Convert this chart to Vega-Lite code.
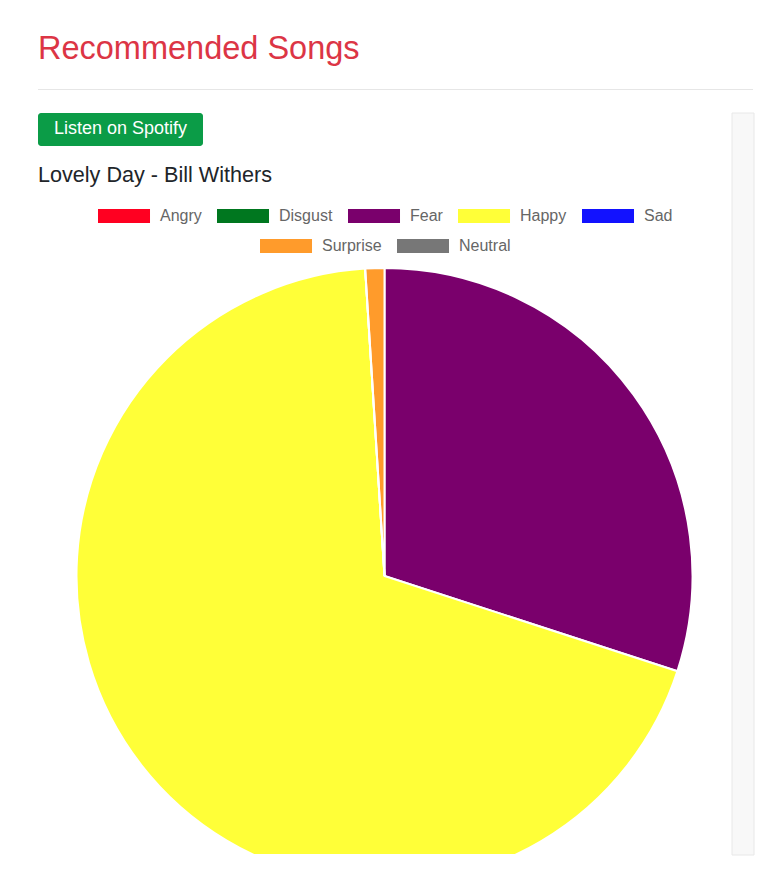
{
  "$schema": "https://vega.github.io/schema/vega-lite/v6.json",
  "background": "white",
  "padding": {"left": 38, "top": 32, "right": 0, "bottom": 0},
  "datasets": {
    "emotions": [
      {"emotion": "Angry", "value": 0},
      {"emotion": "Disgust", "value": 0},
      {"emotion": "Fear", "value": 30},
      {"emotion": "Happy", "value": 69},
      {"emotion": "Sad", "value": 0},
      {"emotion": "Surprise", "value": 1},
      {"emotion": "Neutral", "value": 0}
    ],
    "button": [{"label": "Listen on Spotify"}],
    "divider": [{"part": "divider"}],
    "scroll": [{"part": "track"}]
  },
  "title": {
    "text": "Recommended Songs",
    "anchor": "start",
    "fontSize": 32.5,
    "fontWeight": "normal",
    "color": "#dc3545",
    "offset": 24
  },
  "spacing": 22,
  "vconcat": [
    {
      "width": 715,
      "height": 1,
      "data": {"name": "divider"},
      "mark": {"type": "rect", "fill": "#e6e6e6"},
      "encoding": {}
    },
    {
      "spacing": 0,
      "hconcat": [
        {
          "spacing": 19,
          "vconcat": [
            {
              "width": 165,
              "height": 33,
              "data": {"name": "button"},
              "layer": [
                {"mark": {"type": "rect", "fill": "#0b9c47", "cornerRadius": 3}, "encoding": {}},
                {
                  "mark": {"type": "text", "color": "white", "fontSize": 18, "align": "center", "baseline": "middle", "dy": -1},
                  "encoding": {"text": {"field": "label", "type": "nominal"}}
                }
              ]
            },
            {
              "width": 693,
              "height": 586,
              "data": {"name": "emotions"},
              "title": {
                "text": "Lovely Day - Bill Withers",
                "anchor": "start",
                "fontSize": 21.6,
                "fontWeight": "normal",
                "color": "#212529",
                "offset": 21
              },
              "layer": [
                {
                  "mark": {"type": "arc", "outerRadius": 308, "yOffset": 15, "clip": true, "stroke": "white", "strokeWidth": 2},
                  "encoding": {
                    "theta": {"field": "value", "type": "quantitative", "stack": true},
                    "color": {
                      "field": "emotion",
                      "type": "nominal",
                      "scale": {
                        "domain": ["Angry", "Disgust", "Fear", "Happy", "Sad", "Surprise", "Neutral"],
                        "range": ["#ff0021", "#00771f", "#7a006c", "#ffff38", "#1212ff", "#ff9b2b", "#777777"]
                      },
                      "legend": null
                    }
                  }
                },
                {
                  "transform": [{"filter": {"field": "emotion", "oneOf": ["Angry", "Disgust", "Fear", "Happy", "Sad"]}}],
                  "mark": {"type": "arc", "opacity": 0},
                  "encoding": {
                    "theta": {"field": "value", "type": "quantitative", "stack": true},
                    "color": {
                      "field": "emotion",
                      "type": "nominal",
                      "scale": {
                        "domain": ["Angry", "Disgust", "Fear", "Happy", "Sad"],
                        "range": ["#ff0021", "#00771f", "#7a006c", "#ffff38", "#1212ff"]
                      },
                      "legend": {
                        "title": null,
                        "orient": "top",
                        "direction": "horizontal",
                        "symbolType": "M-1,-1H6.43V1H-1Z",
                        "symbolSize": 196,
                        "symbolOpacity": 1,
                        "symbolStrokeWidth": 0,
                        "labelOffset": 47,
                        "labelFontSize": 16,
                        "labelColor": "#666666",
                        "columnPadding": 14,
                        "offset": 14
                      }
                    }
                  }
                },
                {
                  "transform": [{"filter": {"field": "emotion", "oneOf": ["Surprise", "Neutral"]}}],
                  "mark": {"type": "arc", "opacity": 0},
                  "encoding": {
                    "theta": {"field": "value", "type": "quantitative", "stack": true},
                    "color": {
                      "field": "emotion",
                      "type": "nominal",
                      "scale": {
                        "domain": ["Surprise", "Neutral"],
                        "range": ["#ff9b2b", "#777777"]
                      },
                      "legend": {
                        "title": null,
                        "orient": "top",
                        "direction": "horizontal",
                        "symbolType": "M-1,-1H6.43V1H-1Z",
                        "symbolSize": 196,
                        "symbolOpacity": 1,
                        "symbolStrokeWidth": 0,
                        "labelOffset": 47,
                        "labelFontSize": 16,
                        "labelColor": "#666666",
                        "columnPadding": 14,
                        "offset": 14
                      }
                    }
                  }
                }
              ],
              "resolve": {"scale": {"color": "independent", "theta": "independent"}, "legend": {"color": "independent"}}
            }
          ]
        },
        {
          "width": 22,
          "height": 742,
          "data": {"name": "scroll"},
          "mark": {"type": "rect", "fill": "#f8f8f8", "stroke": "#e8e8e8", "strokeWidth": 1},
          "encoding": {}
        }
      ]
    }
  ],
  "config": {
    "font": "Liberation Sans",
    "view": {"stroke": null},
    "title": {"font": "Liberation Sans", "fontWeight": "normal"},
    "legend": {
      "labelFont": "Liberation Sans",
      "layout": {"top": {"anchor": "middle", "direction": "vertical", "center": true, "margin": 14, "offset": 14}}
    }
  }
}
